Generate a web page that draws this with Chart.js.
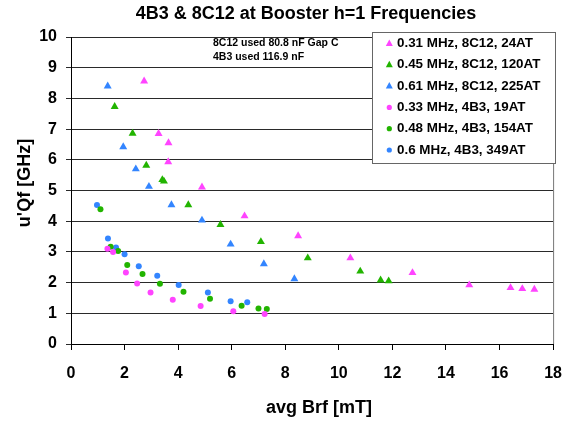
<!DOCTYPE html>
<html lang="en">
<head>
<meta charset="UTF-8">
<title>4B3 & 8C12 at Booster h=1 Frequencies</title>
<script src="https://cdn.jsdelivr.net/npm/chart.js@4.4.0/dist/chart.umd.min.js"></script>
<style>
  html, body { margin: 0; padding: 0; background: #fff; }
  #wrap { width: 576px; height: 421px; position: relative; }
</style>
</head>
<body>
<div id="wrap"><canvas id="chart"></canvas></div>
<script>
  // series data (x = avg Brf [mT], y = u'Qf [GHz])
  const pinkTriX = [2.73, 3.27, 3.64, 3.63, 4.89, 6.48, 8.48, 10.43, 12.75, 14.87, 16.41, 16.85, 17.30];
  const pinkTriY = [8.56, 6.85, 6.55, 5.93, 5.11, 4.17, 3.52, 2.80, 2.32, 1.92, 1.83, 1.80, 1.78];
  const greenTriX = [1.63, 2.30, 2.81, 3.41, 3.47, 4.38, 5.58, 7.09, 8.84, 10.80, 11.56, 11.86];
  const greenTriY = [7.73, 6.86, 5.82, 5.35, 5.30, 4.53, 3.89, 3.33, 2.80, 2.37, 2.08, 2.05];
  const blueTriX = [1.37, 1.95, 2.42, 2.91, 3.75, 4.89, 5.96, 7.20, 8.34];
  const blueTriY = [8.40, 6.42, 5.70, 5.13, 4.53, 4.03, 3.25, 2.61, 2.12];
  const pinkDotX = [1.36, 1.57, 2.05, 2.47, 2.97, 3.80, 4.84, 6.06, 7.23];
  const pinkDotY = [3.10, 3.00, 2.33, 1.97, 1.68, 1.44, 1.24, 1.07, 0.98];
  const greenDotX = [1.10, 1.48, 1.76, 2.10, 2.67, 3.32, 4.20, 5.19, 6.37, 7.00, 7.31];
  const greenDotY = [4.39, 3.17, 3.03, 2.57, 2.28, 1.96, 1.70, 1.47, 1.25, 1.16, 1.14];
  const blueDotX = [0.97, 1.38, 1.68, 2.00, 2.53, 3.22, 4.02, 5.11, 5.96, 6.58];
  const blueDotY = [4.53, 3.44, 3.14, 2.92, 2.53, 2.22, 1.92, 1.68, 1.39, 1.36];

  const seriesNames = [
    '0.31 MHz, 8C12, 24AT',
    '0.45 MHz, 8C12, 120AT',
    '0.61 MHz, 8C12, 225AT',
    '0.33 MHz, 4B3, 19AT',
    '0.48 MHz, 4B3, 154AT',
    '0.6 MHz, 4B3, 349AT'
  ];
  const notes = ['8C12 used 80.8 nF Gap C', '4B3 used 116.9 nF'];

  const PINK = '#ff44ff', GREEN = '#22b400', BLUE = '#3385ff';
  const FONT = '"Liberation Sans", Arial, sans-serif';

  function pts(xs, ys) {
    return xs.map((x, i) => ({ x: x, y: ys[i] }));
  }
  function tri(label, xs, ys, color) {
    return { label, data: pts(xs, ys), pointStyle: 'triangle', pointRadius: 4.6,
      backgroundColor: color, borderColor: color, borderWidth: 0, pointHoverRadius: 4.6 };
  }
  function dot(label, xs, ys, color) {
    return { label, data: pts(xs, ys), pointStyle: 'circle', pointRadius: 3,
      backgroundColor: color, borderColor: color, borderWidth: 0, pointHoverRadius: 3 };
  }

  const datasets = [
    tri(seriesNames[0], pinkTriX, pinkTriY, PINK),
    tri(seriesNames[1], greenTriX, greenTriY, GREEN),
    tri(seriesNames[2], blueTriX, blueTriY, BLUE),
    dot(seriesNames[3], pinkDotX, pinkDotY, PINK),
    dot(seriesNames[4], greenDotX, greenDotY, GREEN),
    dot(seriesNames[5], blueDotX, blueDotY, BLUE)
  ];

  // titles, notes, right border and the boxed legend
  const decor = {
    id: 'decor',
    afterDraw(chart) {
      const ctx = chart.ctx;
      const a = chart.chartArea;
      ctx.save();
      ctx.fillStyle = '#000';
      ctx.textBaseline = 'middle';
      ctx.textAlign = 'center';
      ctx.font = 'bold 18px ' + FONT;
      ctx.fillText('4B3 & 8C12 at Booster h=1 Frequencies', 306, 14);
      ctx.fillText('avg Brf [mT]', 319, 408);
      ctx.save();
      ctx.translate(25, 183);
      ctx.rotate(-Math.PI / 2);
      ctx.fillText("u'Qf [GHz]", 0, 0);
      ctx.restore();

      ctx.textAlign = 'left';
      ctx.font = 'bold 10.5px ' + FONT;
      ctx.fillText(notes[0], 213, 43);
      ctx.fillText(notes[1], 213, 57);

      // right border of plot
      ctx.strokeStyle = '#777';
      ctx.lineWidth = 1;
      ctx.beginPath();
      ctx.moveTo(a.right + 0.5, a.top);
      ctx.lineTo(a.right + 0.5, a.bottom);
      ctx.stroke();

      // legend box
      const lx = 372, ly = 32, lw = 183, lh = 131;
      ctx.fillStyle = '#fff';
      ctx.fillRect(lx, ly, lw, lh);
      ctx.strokeStyle = '#666';
      ctx.strokeRect(lx + 0.5, ly + 0.5, lw, lh);
      ctx.font = 'bold 13.4px ' + FONT;
      chart.data.datasets.forEach((ds, i) => {
        const y = 43.5 + i * 21.3;
        ctx.fillStyle = ds.backgroundColor;
        ctx.beginPath();
        if (ds.pointStyle === 'triangle') {
          ctx.moveTo(389.3, y - 4);
          ctx.lineTo(392.8, y + 2.5);
          ctx.lineTo(385.8, y + 2.5);
        } else {
          ctx.arc(389.3, y, 2.6, 0, Math.PI * 2);
        }
        ctx.fill();
        ctx.fillStyle = '#000';
        ctx.fillText(ds.label, 397, y);
      });
      ctx.restore();
    }
  };

  new Chart(document.getElementById('chart'), {
    type: 'scatter',
    data: { datasets: datasets },
    plugins: [decor],
    options: {
      responsive: true,
      maintainAspectRatio: false,
      animation: false,
      layout: { padding: { top: 37, right: 19, left: 0, bottom: 0 } },
      plugins: { legend: { display: false }, tooltip: { enabled: false }, title: { display: false } },
      scales: {
        x: {
          type: 'linear', min: 0, max: 18,
          afterFit(s) { s.height = 77; },
          ticks: { stepSize: 2, color: '#000', padding: 14, maxRotation: 0,
            font: { family: FONT, size: 16, weight: 'bold' } },
          grid: { drawOnChartArea: false, tickLength: 6, color: '#000' },
          border: { color: '#000', width: 1 }
        },
        y: {
          type: 'linear', min: 0, max: 10,
          afterFit(s) { s.width = 71; },
          ticks: { stepSize: 1, color: '#000', padding: 9,
            font: { family: FONT, size: 16, weight: 'bold' } },
          grid: { color: '#2a2a2a', tickLength: 5 },
          border: { color: '#000', width: 1 }
        }
      }
    }
  });
</script>
</body>
</html>
